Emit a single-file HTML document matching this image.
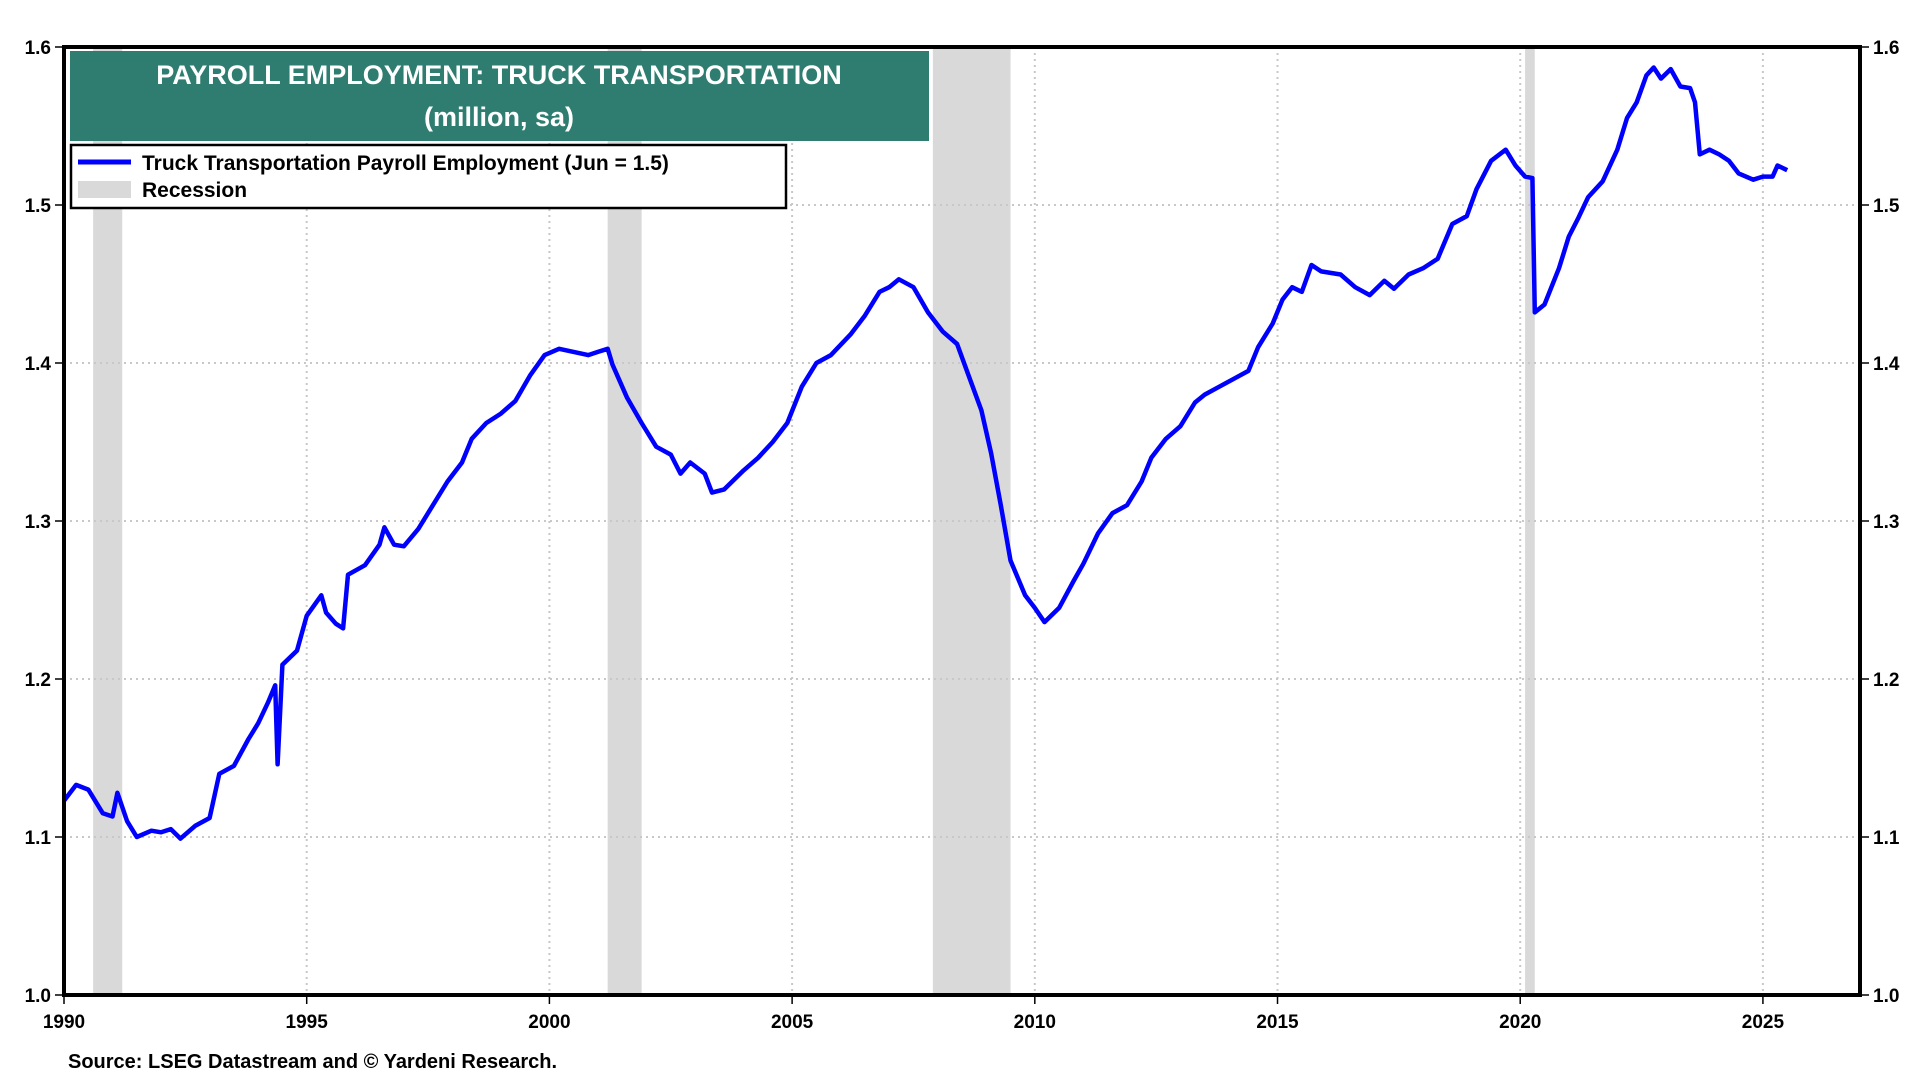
<!DOCTYPE html>
<html><head><meta charset="utf-8"><style>
html,body{margin:0;padding:0;background:#fff;}
body{width:1920px;height:1080px;overflow:hidden;font-family:"Liberation Sans",Arial,sans-serif;}
text{font-family:"Liberation Sans",Arial,sans-serif;font-weight:bold;}
</style></head><body>
<svg id="chart" width="1920" height="1080" xmlns="http://www.w3.org/2000/svg">
<g id="rec"></g>
<g id="grid"></g>
<g id="ticks"></g>
<path id="line" fill="none" stroke="#0000ff" stroke-width="4.5" stroke-linejoin="round"/>
<rect x="64" y="47" width="1796" height="948" fill="none" stroke="#000" stroke-width="4"/>
<g>
<rect x="70" y="51" width="859" height="90" fill="#2e7d70"/>
<text x="499" y="84" fill="#fff" font-size="27" text-anchor="middle">PAYROLL EMPLOYMENT: TRUCK TRANSPORTATION</text>
<text x="499" y="126" fill="#fff" font-size="27" text-anchor="middle">(million, sa)</text>
</g>
<g>
<rect x="71" y="145" width="715" height="63" fill="#fff" stroke="#000" stroke-width="2.5"/>
<line x1="78" y1="162" x2="131" y2="162" stroke="#0000ff" stroke-width="5"/>
<text x="142" y="170" font-size="21">Truck Transportation Payroll Employment (Jun = 1.5)</text>
<rect x="78" y="181" width="53" height="17" fill="#d9d9d9"/>
<text x="142" y="197" font-size="21">Recession</text>
</g>
<text x="68" y="1068" font-size="20">Source: LSEG Datastream and © Yardeni Research.</text>
</svg>
<script>
const years=[1990,1990.25,1990.5,1990.8,1991,1991.1,1991.3,1991.5,1991.8,1992,1992.2,1992.4,1992.7,1993,1993.2,1993.5,1993.8,1994,1994.2,1994.35,1994.4,1994.5,1994.8,1995,1995.3,1995.4,1995.6,1995.75,1995.85,1996.2,1996.5,1996.6,1996.8,1997,1997.3,1997.6,1997.9,1998.2,1998.4,1998.7,1999,1999.3,1999.6,1999.9,2000.2,2000.5,2000.8,2001,2001.2,2001.3,2001.6,2001.9,2002.2,2002.5,2002.7,2002.9,2003.2,2003.35,2003.6,2004,2004.3,2004.6,2004.9,2005.2,2005.5,2005.8,2006.2,2006.5,2006.8,2007,2007.2,2007.5,2007.8,2008.1,2008.4,2008.6,2008.9,2009.1,2009.3,2009.5,2009.8,2010,2010.2,2010.5,2010.8,2011,2011.3,2011.6,2011.9,2012.2,2012.4,2012.7,2013,2013.3,2013.5,2013.8,2014.1,2014.4,2014.6,2014.9,2015.1,2015.3,2015.5,2015.7,2015.9,2016.3,2016.6,2016.9,2017.2,2017.4,2017.7,2018,2018.3,2018.6,2018.9,2019.1,2019.4,2019.7,2019.9,2020.1,2020.25,2020.3,2020.5,2020.8,2021,2021.2,2021.4,2021.7,2022,2022.2,2022.4,2022.6,2022.75,2022.9,2023.1,2023.3,2023.5,2023.6,2023.7,2023.9,2024.1,2024.3,2024.5,2024.8,2025,2025.2,2025.3,2025.5];
const values=[1.123,1.133,1.13,1.115,1.113,1.128,1.11,1.1,1.104,1.103,1.105,1.099,1.107,1.112,1.14,1.145,1.162,1.172,1.185,1.196,1.146,1.209,1.218,1.24,1.253,1.242,1.235,1.232,1.266,1.272,1.285,1.296,1.285,1.284,1.295,1.31,1.325,1.337,1.352,1.362,1.368,1.376,1.392,1.405,1.409,1.407,1.405,1.407,1.409,1.399,1.378,1.362,1.347,1.342,1.33,1.337,1.33,1.318,1.32,1.332,1.34,1.35,1.362,1.385,1.4,1.405,1.418,1.43,1.445,1.448,1.453,1.448,1.432,1.42,1.412,1.395,1.37,1.343,1.31,1.275,1.253,1.245,1.236,1.245,1.262,1.273,1.292,1.305,1.31,1.325,1.34,1.352,1.36,1.375,1.38,1.385,1.39,1.395,1.41,1.425,1.44,1.448,1.445,1.462,1.458,1.456,1.448,1.443,1.452,1.447,1.456,1.46,1.466,1.488,1.493,1.51,1.528,1.535,1.525,1.518,1.517,1.432,1.437,1.46,1.48,1.492,1.505,1.515,1.535,1.555,1.565,1.582,1.587,1.58,1.586,1.575,1.574,1.565,1.532,1.535,1.532,1.528,1.52,1.516,1.518,1.518,1.525,1.522];
const recStart=[1990.6,2001.2,2007.9,2020.1];
const recEnd=[1991.2,2001.9,2009.5,2020.3];
const xTicks=[1990,1995,2000,2005,2010,2015,2020,2025];
const yTicks=[1.0,1.1,1.2,1.3,1.4,1.5,1.6];
const NS="http://www.w3.org/2000/svg";
const X0=64,X1=1860,Y0=995,Y1=47,YR0=1990,YR1=2027,V0=1.0,V1=1.6;
function xs(t){return X0+(t-YR0)/(YR1-YR0)*(X1-X0);}
function ys(v){return Y0-(v-V0)/(V1-V0)*(Y0-Y1);}
function mk(tag,attrs,parent){const e=document.createElementNS(NS,tag);for(const k in attrs)e.setAttribute(k,attrs[k]);parent.appendChild(e);return e;}
const rec=document.getElementById('rec'),grid=document.getElementById('grid'),ticks=document.getElementById('ticks');
recStart.forEach((s,i)=>{const r=mk('rect',{x:xs(s),y:Y1,width:xs(recEnd[i])-xs(s),height:Y0-Y1,fill:'#d9d9d9'},rec);

});
xTicks.forEach(t=>{const x=xs(t);
if(t>YR0){const g=mk('line',{x1:x,x2:x,y1:Y1,y2:Y0,stroke:'#c8c8c8','stroke-width':2,'stroke-dasharray':'2,4'},grid);

}
mk('line',{x1:x,x2:x,y1:Y0,y2:Y0+9,stroke:'#000','stroke-width':1.5},ticks);
const tx=mk('text',{x:x,y:Y0+33,'font-size':19,'text-anchor':'middle'},ticks);tx.textContent=t;

});
yTicks.forEach(v=>{const y=ys(v);
if(v>V0&&v<V1){const g=mk('line',{x1:X0,x2:X1,y1:y,y2:y,stroke:'#c8c8c8','stroke-width':2,'stroke-dasharray':'2,4'},grid);

}
mk('line',{x1:X0-9,x2:X0,y1:y,y2:y,stroke:'#000','stroke-width':1.5},ticks);
mk('line',{x1:X1,x2:X1+9,y1:y,y2:y,stroke:'#000','stroke-width':1.5},ticks);
const l=mk('text',{x:X0-13,y:y+7,'font-size':19,'text-anchor':'end'},ticks);l.textContent=v.toFixed(1);


const r=mk('text',{x:X1+13,y:y+7,'font-size':19},ticks);r.textContent=v.toFixed(1);

});
document.getElementById('line').setAttribute('d',years.map((t,i)=>(i?'L':'M')+xs(t).toFixed(1)+','+ys(values[i]).toFixed(1)).join(''));
</script>
</body></html>
